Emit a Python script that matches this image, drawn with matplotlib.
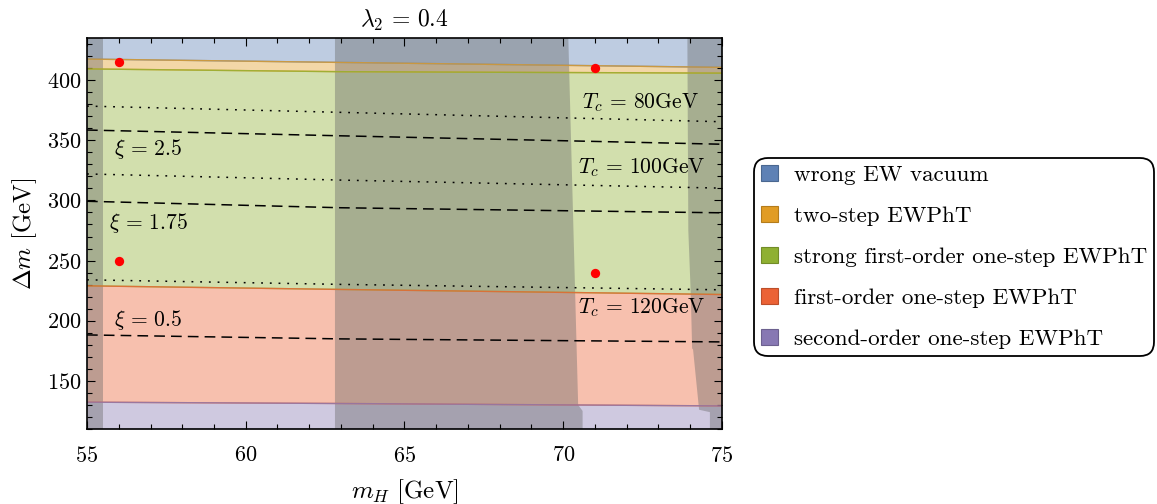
import matplotlib
matplotlib.use('Agg')
import matplotlib.pyplot as plt
import matplotlib.patches as mpatches
from matplotlib.ticker import MultipleLocator
import numpy as np

plt.rcParams['font.family'] = 'serif'
plt.rcParams['font.serif'] = ['cmr10']
plt.rcParams['mathtext.fontset'] = 'cm'
plt.rcParams['axes.formatter.use_mathtext'] = True

mh_nodes = [55, 63, 75]

# phase-region boundaries (Delta m in GeV)
blue_orange = [417.5, 414.7, 410.6]
orange_green = [409.3, 407.0, 405.8]
green_red = [229.0, 226.0, 221.8]
red_purple = [132.3, 131.2, 129.2]

# Tc contours (dotted) and xi contours (dashed)
tc_values = [80, 100, 120]
tc_lines = [[378.4, 373.2, 365.4],
            [322.0, 316.9, 310.2],
            [234.0, 230.2, 225.7]]
xi_values = ['2.5', '1.75', '0.5']
xi_lines = [[358.5, 353.7, 346.7],
            [299.3, 293.9, 289.7],
            [188.2, 184.9, 182.4]]

# excluded (grey) regions, outlines in (mH, Delta m)
excl_left_mh = [55.0, 55.51, 55.51, 55.0]
excl_left_dm = [110, 110, 435, 435]
excl_mid_mh = [62.81, 70.16, 70.47, 70.61, 70.61, 62.81]
excl_mid_dm = [435, 435, 130, 125, 110, 110]
excl_right_mh = [73.91, 75.0, 75.0, 74.62, 74.62, 74.28, 74.09, 74.06, 74.02, 73.94]
excl_right_dm = [435, 435, 110, 110, 124, 126, 176, 177, 220, 275]

# benchmark points
bm_mh = [56, 71, 56, 71]
bm_dm = [415.2, 410.2, 249.8, 239.8]

labels = ['wrong EW vacuum', 'two-step EWPhT',
          'strong first-order one-step EWPhT',
          'first-order one-step EWPhT', 'second-order one-step EWPhT']
colors = ['#5E81B5', '#E19C24', '#8FB032', '#EB6235', '#8778B3']
edges = ['#4A6790', '#B47C1C', '#728C28', '#BC4E2A', '#6C608F']

ymin, ymax = 110, 435

fig = plt.figure(figsize=(11.57, 5.04), dpi=100)
ax = fig.add_axes([0.0752, 0.1488, 0.5488, 0.7758])

# phase regions
bounds = [np.full(3, ymax), blue_orange, orange_green, green_red,
          red_purple, np.full(3, ymin)]
for i in range(5):
    ax.fill_between(mh_nodes, bounds[i + 1], bounds[i], color=colors[i],
                    alpha=0.4, lw=0)
    if i > 0:
        ax.plot(mh_nodes, bounds[i], color=colors[i], lw=1, alpha=0.8)
    ax.plot(mh_nodes, bounds[i + 1], color=colors[i], lw=1, alpha=0.8)

# excluded regions
for mh, dm in [(excl_left_mh, excl_left_dm), (excl_mid_mh, excl_mid_dm),
               (excl_right_mh, excl_right_dm)]:
    ax.add_patch(mpatches.Polygon(np.column_stack([mh, dm]), closed=True,
                                  facecolor='#666666', alpha=0.4, lw=0))

# contours
for tc in tc_lines:
    ax.plot(mh_nodes, tc, color='k', lw=1.1, ls=(0, (1.2, 4.5)))
for xi in xi_lines:
    ax.plot(mh_nodes, xi, color='k', lw=1.1, ls=(0, (7, 4)))

fs = 15.5
ax.text(72.42, 381, r'$T_c\,=\,80\mathrm{GeV}$', fontsize=fs, ha='center', va='center')
ax.text(72.46, 327, r'$T_c\,=\,100\mathrm{GeV}$', fontsize=fs, ha='center', va='center')
ax.text(72.46, 210.5, r'$T_c\,=\,120\mathrm{GeV}$', fontsize=fs, ha='center', va='center')
ax.text(55.85, 342.6, r'$\xi\,=\,%s$' % xi_values[0], fontsize=fs, ha='left', va='center')
ax.text(55.7, 281.4, r'$\xi\,=\,%s$' % xi_values[1], fontsize=fs, ha='left', va='center')
ax.text(55.85, 200.5, r'$\xi\,=\,%s$' % xi_values[2], fontsize=fs, ha='left', va='center')

ax.scatter(bm_mh, bm_dm, s=45, color='#FF0000', zorder=5, lw=0)

ax.set_xlim(55, 75)
ax.set_ylim(ymin, ymax)
ax.xaxis.set_major_locator(MultipleLocator(5))
ax.xaxis.set_minor_locator(MultipleLocator(1))
ax.yaxis.set_major_locator(MultipleLocator(50))
ax.yaxis.set_minor_locator(MultipleLocator(10))
ax.tick_params(which='both', direction='in', top=True, right=True,
               labelsize=16, width=0.8)
ax.tick_params(axis='x', which='both', pad=12)
ax.tick_params(axis='y', which='both', pad=4)
ax.tick_params(which='major', length=6)
ax.tick_params(which='minor', length=3.5)
for s in ax.spines.values():
    s.set_linewidth(1.2)

ax.set_title(r'$\lambda_2\,=\,0.4$', fontsize=17, pad=8)
ax.set_xlabel(r'$m_H\ [\mathrm{GeV}]$', fontsize=18, labelpad=8)
ax.set_ylabel(r'$\Delta m\ [\mathrm{GeV}]$', fontsize=18, labelpad=6)

handles = [mpatches.Patch(facecolor=c, edgecolor=e, lw=0.8, label=l)
           for c, e, l in zip(colors, edges, labels)]
leg = fig.legend(handles=handles, loc='center left',
                 bbox_to_anchor=(0.652, 0.49), fontsize=16.6,
                 frameon=True, fancybox=True, framealpha=1,
                 handlelength=0.72, handleheight=0.72, handletextpad=0.7,
                 labelspacing=0.9, borderpad=0.3, borderaxespad=0)
leg.get_frame().set_edgecolor('k')
leg.get_frame().set_linewidth(1.3)
leg.get_frame().set_boxstyle('round', pad=0, rounding_size=0.6)

plt.savefig('out.png', dpi=100)
